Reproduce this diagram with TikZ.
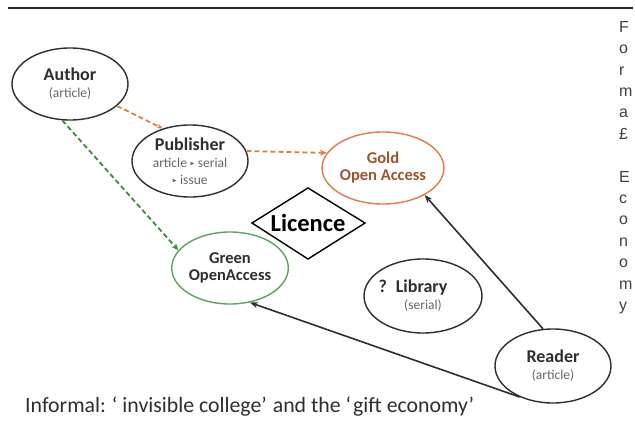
\documentclass[tikz,border=0pt]{standalone}
\usepackage{fontspec}
\setmainfont{Carlito}
\newfontfamily\arialf{Liberation Sans}
\usepackage{amssymb}
\usepackage{graphicx}
\usetikzlibrary{shapes.geometric,arrows.meta}
\definecolor{ink}{HTML}{2E2E2E}
\definecolor{sub}{HTML}{666666}
\definecolor{orng}{HTML}{E67A45}
\definecolor{goldtxt}{HTML}{A0532C}
\definecolor{grn}{HTML}{5FA25F}
\definecolor{grnarrow}{HTML}{3E8A3E}
\newcommand\tri{\raisebox{0.3ex}{\scalebox{0.45}{$\blacktriangleright$}}}
\newcommand\ttl[1]{{\fontsize{18}{17}\selectfont\bfseries #1}}
\newcommand\subt[1]{{\fontsize{13.5}{17}\selectfont\color{sub}#1}}
\begin{document}
\begin{tikzpicture}[x=1pt,y=-1pt,
  oval/.style={ellipse, draw=ink, line width=1.4pt, minimum width=116pt, minimum height=72pt,
    inner sep=0pt, align=center, text=ink, font=\fontsize{13.5}{17}\selectfont},
  dasharrow/.style={line width=1.8pt, dash pattern=on 5pt off 3pt, -{Stealth[length=7pt,width=6pt]}},
  solidarrow/.style={line width=1.6pt, draw=ink, -{Stealth[length=8pt,width=6pt]}}
]
\useasboundingbox (0,0) rectangle (635,425);
\fill[white] (0,0) rectangle (635,425);
\coordinate (ruleL) at (8,8);
\coordinate (ruleR) at (633,8);
\draw[line width=1.5pt, black!85] (ruleL) -- (ruleR);

\node[oval] (author) at (70,84) {\ttl{Author}\\\subt{(article)}};
\node[oval] (pub) at (190,161) {\ttl{Publisher}\\\subt{article \tri\ serial}\\\subt{\tri\ issue}};
\node[oval, draw=orng, text=goldtxt, minimum width=116pt] (gold) at (383,168)
  {{\fontsize{16.5}{17}\selectfont\bfseries Gold}\\{\fontsize{16.5}{17}\selectfont\bfseries Open Access}};
\node[oval, draw=grn] (green) at (230,268)
  {{\fontsize{16.5}{18}\selectfont\bfseries Green}\\{\fontsize{16.5}{18}\selectfont\bfseries OpenAccess}};
\node[oval, minimum width=118pt, minimum height=74pt] (lib) at (423,296)
  {\hspace*{-20pt}\ttl{?\hspace{9pt}Library}\\\subt{(serial)}};
\node[oval, minimum height=74pt] (reader) at (553,366) {\ttl{Reader}\\\subt{(article)}};

\node[inner sep=0pt, font=\fontsize{24.5}{24}\selectfont\bfseries, text=black] (lic) at (308,223) {Licence};
\draw[line width=1.4pt, black, line join=miter]
  ([xshift=-56pt]lic.center) -- ([yshift=-36pt]lic.center) -- ([xshift=57pt]lic.center)
  -- ([yshift=35pt]lic.center) -- cycle;

\draw[dasharrow, draw=orng, -{Stealth[length=6pt,width=5pt,fill=ink]}] (author.-25) -- (pub.130);
\draw[dasharrow, draw=orng, -{Stealth[length=7pt,width=6pt,fill=orng]}] (pub.10) -- (gold.165);
\draw[dasharrow, draw=grnarrow] (author.258) -- (green.161);
\draw[solidarrow] (reader.105) -- (gold.327);
\draw[solidarrow] (reader.223) -- (green.300);

\node[anchor=base west, inner sep=0pt, text=ink, font=\fontsize{21.8}{24}\selectfont] (informal) at (25,412)
  {Informal:\hspace{6pt}‘\hspace{5pt}invisible college’\hspace{6pt}and the\hspace{5pt}‘\hspace{2pt}gift economy’};
\node[anchor=north west, inner sep=0pt, align=left, text=black!75, font=\arialf\fontsize{16}{21.4}\selectfont] (formal) at (619,21)
  {F\\o\\r\\m\\a\\£\\\mbox{}\\E\\c\\o\\n\\o\\m\\y};
\end{tikzpicture}
\end{document}
